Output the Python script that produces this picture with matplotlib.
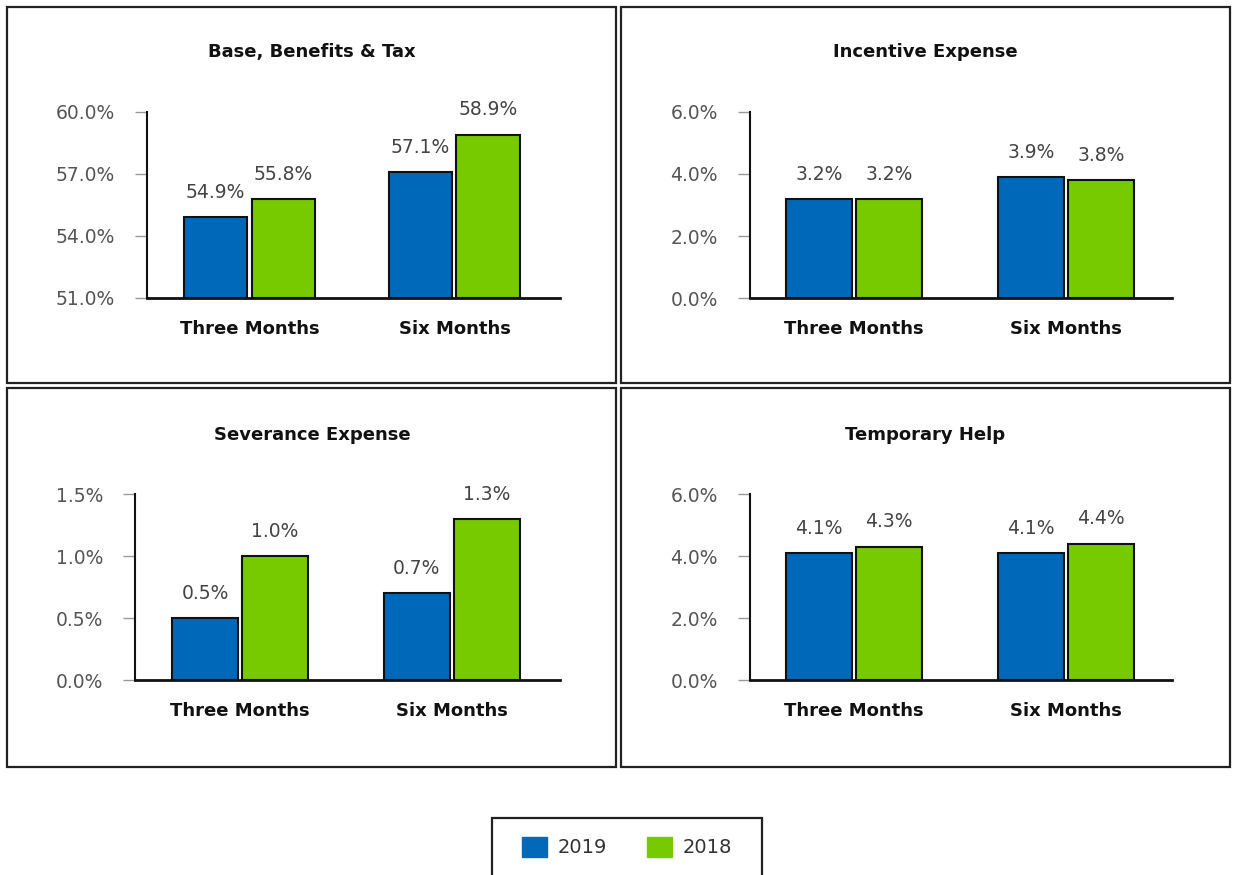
import matplotlib
matplotlib.use("Agg")
import matplotlib.pyplot as plt
from matplotlib.patches import Rectangle, Patch

plt.rcParams['font.family'] = ['DejaVu Sans']

categories = ["Three Months", "Six Months"]
series_names = ["2019", "2018"]
titles = ["Base, Benefits & Tax", "Incentive Expense", "Severance Expense", "Temporary Help"]
vals_2019 = [[54.9, 57.1], [3.2, 3.9], [0.5, 0.7], [4.1, 4.1]]
vals_2018 = [[55.8, 58.9], [3.2, 3.8], [1.0, 1.3], [4.3, 4.4]]
yticks = [[51.0, 54.0, 57.0, 60.0], [0.0, 2.0, 4.0, 6.0], [0.0, 0.5, 1.0, 1.5], [0.0, 2.0, 4.0, 6.0]]

BLUE = "#0068B9"
GREEN = "#77C900"
W, H = 1237, 875

fig = plt.figure(figsize=(W / 100, H / 100), dpi=100)

def px_axes(x0, x1, y0, y1):
    return fig.add_axes([x0 / W, 1 - y1 / H, (x1 - x0) / W, (y1 - y0) / H])

def px_rect(x0, x1, y0, y1, lw=1.6):
    fig.add_artist(Rectangle((x0 / W, 1 - y1 / H), (x1 - x0) / W, (y1 - y0) / H,
                             transform=fig.transFigure, fill=False, edgecolor="#222222", lw=lw))

frames = [(7, 616, 7, 383), (621, 1230, 7, 383), (7, 616, 388, 767), (621, 1230, 388, 767)]
for f in frames:
    px_rect(*f)

axes_px = [(147, 560, 112, 298, -0.5, 1.515),
           (750, 1172, 112, 298, -0.49, 1.5),
           (135, 560, 494, 680, -0.495, 1.51),
           (750, 1172, 494, 680, -0.49, 1.5)]
title_pos = [(312, 52), (925, 52), (312, 435), (925, 435)]

bw = 0.31
off = 0.165
for i in range(4):
    x0, x1, y0, y1, xl, xr = axes_px[i]
    ax = px_axes(x0, x1, y0, y1)
    lo = yticks[i][0]
    xs = range(len(categories))
    b1 = ax.bar([x - off for x in xs], [v - lo for v in vals_2019[i]], bw, bottom=lo,
                color=BLUE, edgecolor="#111111", linewidth=1.5, zorder=3)
    b2 = ax.bar([x + off for x in xs], [v - lo for v in vals_2018[i]], bw, bottom=lo,
                color=GREEN, edgecolor="#111111", linewidth=1.5, zorder=3)
    for bars, vals in ((b1, vals_2019[i]), (b2, vals_2018[i])):
        for b, v in zip(bars, vals):
            ax.annotate(f"{v:.1f}%", (b.get_x() + b.get_width() / 2, v),
                        xytext=(0, 11), textcoords="offset points",
                        ha="center", va="bottom", fontsize=13.5, color="#444444")
    ax.set_xlim(xl, xr)
    ax.set_ylim(yticks[i][0], yticks[i][-1])
    ax.set_yticks(yticks[i])
    ax.set_yticklabels([f"{t:.1f}%" for t in yticks[i]], fontsize=13.5, color="#555555")
    ax.set_xticks(list(xs))
    ax.set_xticklabels(categories, fontsize=13, fontweight="bold", color="#111111")
    ax.tick_params(axis="x", length=0, pad=16)
    ax.tick_params(axis="y", length=9, width=1, color="#999999", pad=14)
    for s in ("top", "right"):
        ax.spines[s].set_visible(False)
    ax.spines["left"].set_linewidth(1.5)
    ax.spines["left"].set_color("#111111")
    ax.spines["bottom"].set_linewidth(2)
    ax.spines["bottom"].set_color("#111111")
    ax.set_facecolor("none")
    tx, ty = title_pos[i]
    fig.text(tx / W, 1 - ty / H, titles[i], ha="center", va="center",
             fontsize=13, fontweight="bold", color="#111111")

# legend box (cut off at the bottom edge as in the reference)
px_rect(492, 762, 818, 885)
handles = [Patch(facecolor=BLUE, edgecolor=BLUE), Patch(facecolor=GREEN, edgecolor=GREEN)]
leg = fig.legend(handles, series_names, loc="center", bbox_to_anchor=(627 / W, 1 - 847 / H),
                 ncol=2, fontsize=14, frameon=False,
                 handlelength=1.25, handleheight=1.25, columnspacing=2.1, handletextpad=0.55,
                 borderpad=0.2, borderaxespad=0)
for t in leg.get_texts():
    t.set_color("#333333")

fig.savefig("out.png", dpi=100, facecolor="white")
